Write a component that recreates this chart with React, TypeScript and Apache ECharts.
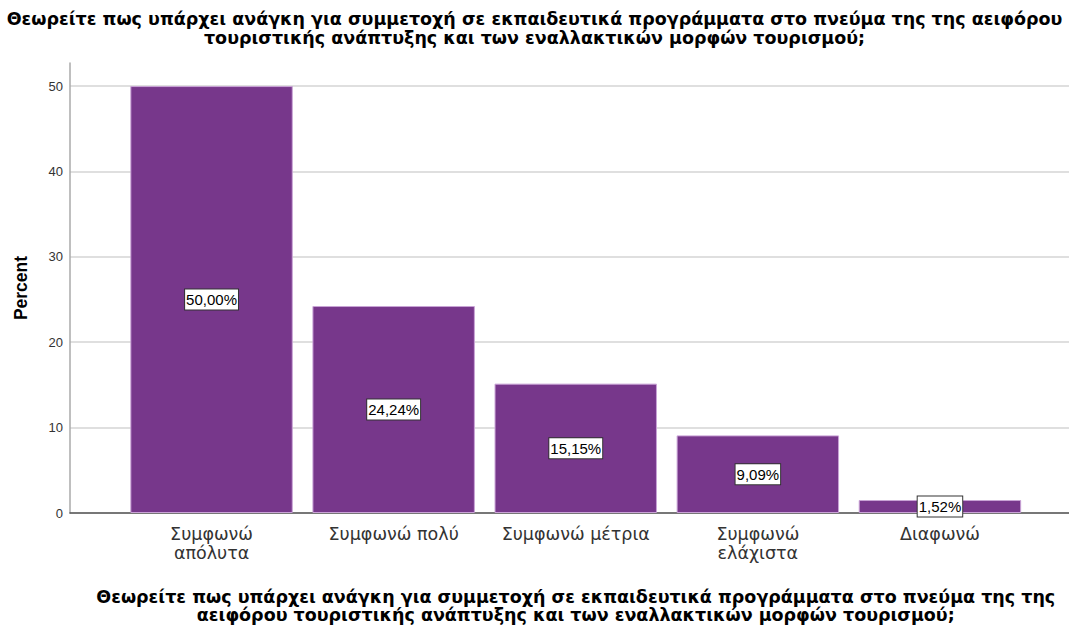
import React, { useEffect, useRef } from "react";
import * as echarts from "echarts";

const titleText =
  "Θεωρείτε πως υπάρχει ανάγκη για συμμετοχή σε εκπαιδευτικά προγράμματα στο πνεύμα της της αειφόρου\nτουριστικής ανάπτυξης και των εναλλακτικών μορφών τουρισμού;";
const xAxisTitle =
  "Θεωρείτε πως υπάρχει ανάγκη για συμμετοχή σε εκπαιδευτικά προγράμματα στο πνεύμα της της\nαειφόρου τουριστικής ανάπτυξης και των εναλλακτικών μορφών τουρισμού;";
const categories = [
  "Συμφωνώ\nαπόλυτα",
  "Συμφωνώ πολύ",
  "Συμφωνώ μέτρια",
  "Συμφωνώ\nελάχιστα",
  "Διαφωνώ",
];
const percents = [50.0, 24.24, 15.15, 9.09, 1.52];
const percentLabels = ["50,00%", "24,24%", "15,15%", "9,09%", "1,52%"];
const yTicks = [0, 10, 20, 30, 40, 50];
const yMax = 52.7;

const ARIAL = "'Liberation Sans', Arial, sans-serif";
const WIDE = "'DejaVu Sans', Verdana, sans-serif";

export default function App() {
  const ref = useRef<HTMLDivElement>(null);
  useEffect(() => {
    const chart = echarts.init(ref.current!, null, { renderer: "svg" });
    const top = 63;
    const bottom = 626 - 513;
    chart.setOption({
      animation: false,
      backgroundColor: "#ffffff",
      title: {
        text: titleText,
        left: "center",
        top: 4,
        textStyle: {
          fontFamily: WIDE,
          fontSize: 17.5,
          fontWeight: "bold",
          color: "#000",
          lineHeight: 19,
        },
      },
      grid: [
        { left: 70, right: 0, top, bottom, containLabel: false, outerBoundsMode: "none" },
        { left: 120.5, right: 38, top, bottom, containLabel: false, outerBoundsMode: "none" },
      ],
      xAxis: [
        {
          gridIndex: 0,
          type: "value",
          min: 0,
          max: 1,
          axisLine: { show: true, lineStyle: { color: "#555", width: 1.5 } },
          axisTick: { show: false },
          axisLabel: { show: false },
          splitLine: { show: false },
        },
        {
          gridIndex: 1,
          type: "category",
          data: categories,
          axisLine: { show: false },
          axisTick: { show: false },
          axisLabel: {
            interval: 0,
            fontFamily: WIDE,
            fontSize: 17.5,
            color: "#333",
            lineHeight: 19,
            margin: 11,
          },
          name: xAxisTitle,
          nameLocation: "middle",
          nameGap: 75,
          nameTextStyle: {
            fontFamily: WIDE,
            fontSize: 17.5,
            fontWeight: "bold",
            color: "#000",
            lineHeight: 18,
          },
        },
      ],
      yAxis: [
        {
          gridIndex: 0,
          type: "value",
          min: 0,
          max: yMax,
          interval: 10,
          axisLine: { show: true, lineStyle: { color: "#aaa", width: 1.5 } },
          axisTick: { show: false },
          axisLabel: {
            fontFamily: ARIAL,
            fontSize: 13,
            color: "#333",
            margin: 7,
            showMaxLabel: false,
            formatter: (v: number) => (yTicks.includes(v) ? String(v) : ""),
          },
          splitLine: {
            show: true,
            lineStyle: { color: "#d4d4d4", width: 1.5 },
            showMaxLine: false,
          },
          name: "Percent",
          nameLocation: "middle",
          nameGap: 40,
          nameRotate: 90,
          nameTextStyle: {
            fontFamily: ARIAL,
            fontSize: 17.5,
            fontWeight: "bold",
            color: "#000",
          },
        },
        {
          gridIndex: 1,
          type: "value",
          min: 0,
          max: yMax,
          interval: 10,
          show: false,
          splitLine: { show: false },
        },
      ],
      series: [
        {
          type: "bar",
          xAxisIndex: 1,
          yAxisIndex: 1,
          data: percents,
          barCategoryGap: "10.8%",
          itemStyle: {
            color: "#77378b",
            borderColor: "#c9a3d6",
            borderWidth: 1,
          },
          label: {
            show: true,
            position: "inside",
            formatter: (p: any) => percentLabels[p.dataIndex],
            fontFamily: ARIAL,
            fontSize: 15,
            color: "#000",
            backgroundColor: "#fff",
            borderColor: "#333",
            borderWidth: 1,
            padding: [3, 1, 2, 1],
          },
        },
      ],
    });
    return () => chart.dispose();
  }, []);
  return <div ref={ref} style={{ width: 1069, height: 626, position: "absolute", left: 0, top: 0 }} />;
}
